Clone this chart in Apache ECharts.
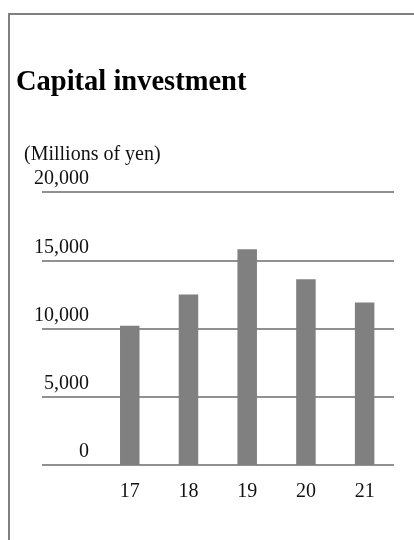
<!DOCTYPE html>
<html>
<head>
<meta charset="utf-8">
<script src="https://cdn.jsdelivr.net/npm/echarts@6/dist/echarts.min.js"></script>
<style>
  html, body { margin: 0; padding: 0; background: #ffffff; }
  #chart { width: 414px; height: 540px; }
</style>
</head>
<body>
<div id="chart"></div>
<script>
// Fiscal years (last two digits) and capital investment, millions of yen
const years = ['17', '18', '19', '20', '21'];
const investment = [10200, 12500, 15800, 13600, 11900];

// Value axis range and tick spacing
const yMin = 0;
const yMax = 20000;
const yStep = 5000;

const titleText = 'Capital investment';
const unitText = '(Millions of yen)';

const serif = '"Liberation Serif", "Times New Roman", serif';

const chart = echarts.init(document.getElementById('chart'), null, { renderer: 'canvas' });

chart.setOption({
  animation: false,
  backgroundColor: '#ffffff',
  title: [
    {
      text: titleText,
      left: 16,
      top: 68,
      padding: 0,
      textStyle: { fontFamily: serif, fontSize: 28.5, fontWeight: 'bold', color: '#000000' }
    },
    {
      text: unitText,
      left: 24,
      top: 145,
      padding: 0,
      textStyle: { fontFamily: serif, fontSize: 20, fontWeight: 'normal', color: '#111111' }
    }
  ],
  // Frame along the top and left edge of the panel
  graphic: [
    {
      type: 'polyline',
      shape: { points: [[9, 540], [9, 14], [414, 14]] },
      style: { stroke: '#808080', lineWidth: 2, fill: null },
      silent: true
    }
  ],
  grid: [
    // Gridlines and value labels span the full width
    { left: 42, right: 20, top: 192, bottom: 75 },
    // Bars sit in the right-hand part of the panel
    { left: 100.4, right: 20, top: 192, bottom: 75 }
  ],
  xAxis: [
    { type: 'value', gridIndex: 0, show: false },
    {
      type: 'category',
      gridIndex: 1,
      data: years,
      axisLine: { show: false },
      axisTick: { show: false },
      axisLabel: { fontFamily: serif, fontSize: 20, color: '#111111', margin: 17 }
    }
  ],
  yAxis: [
    {
      type: 'value',
      gridIndex: 0,
      min: yMin,
      max: yMax,
      interval: yStep,
      axisLine: { show: false },
      axisTick: { show: false },
      splitLine: { show: true, lineStyle: { color: '#909090', width: 2 } },
      axisLabel: {
        fontFamily: serif,
        fontSize: 20,
        color: '#111111',
        margin: -47,
        verticalAlign: 'bottom',
        lineHeight: 20,
        padding: [0, 0, 3, 0],
        formatter: v => v.toLocaleString('en-US')
      }
    },
    {
      type: 'value',
      gridIndex: 1,
      min: yMin,
      max: yMax,
      interval: yStep,
      show: false,
      splitLine: { show: false }
    }
  ],
  series: [
    {
      type: 'bar',
      xAxisIndex: 1,
      yAxisIndex: 1,
      data: investment,
      barWidth: 19.5,
      itemStyle: { color: '#808080' },
      z: 3
    }
  ]
});
</script>
</body>
</html>
